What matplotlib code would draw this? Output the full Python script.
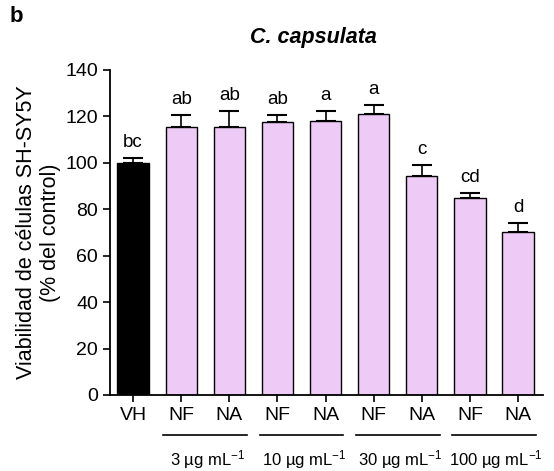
import matplotlib
matplotlib.use('Agg')
import matplotlib.pyplot as plt
import matplotlib.transforms as mtransforms

plt.rcParams['font.family'] = ['Liberation Sans', 'DejaVu Sans']
plt.rcParams['mathtext.fontset'] = 'custom'
plt.rcParams['mathtext.rm'] = 'Liberation Sans'
plt.rcParams['mathtext.it'] = 'Liberation Sans:italic'

# datos
grupos = ['VH', 'NF', 'NA', 'NF', 'NA', 'NF', 'NA', 'NF', 'NA']
media = [100, 115.5, 115.5, 117.5, 118, 121, 94.5, 85, 70]
sem = [2, 5, 7, 3, 4.5, 4, 4.5, 2, 4]
letras = ['bc', 'ab', 'ab', 'ab', 'a', 'a', 'c', 'cd', 'd']
dosis = ['3 µg mL$^{-1}$', '10 µg mL$^{-1}$', '30 µg mL$^{-1}$', '100 µg mL$^{-1}$']

colores = ['black'] + ['#EECBF6'] * 8
x = list(range(len(grupos)))

fig = plt.figure(figsize=(5.54, 4.71), dpi=100)
ax = fig.add_axes([0.1986, 0.1614, 0.7816, 0.69])

ax.bar(x, media, width=0.65, color=colores, edgecolor='black', linewidth=1.0, zorder=2)
ax.errorbar(x, media, yerr=[[0] * len(x), sem], fmt='none', ecolor='black',
            elinewidth=1.2, capsize=7, capthick=1.5, zorder=1)

for xi, m, s, l in zip(x, media, sem, letras):
    ax.annotate(l, (xi, m + s), xytext=(0, 5), textcoords='offset points',
                ha='center', va='bottom', fontsize=13.5)

ax.set_xlim(-0.48, 8.52)
ax.set_ylim(0, 140)
ax.set_yticks(range(0, 141, 20))
ax.set_xticks(x)
ax.set_xticklabels(grupos)
ax.tick_params(axis='both', labelsize=14, direction='out', length=5, width=1.2)
ax.tick_params(axis='x', pad=4)
for s in ['top', 'right']:
    ax.spines[s].set_visible(False)
for s in ['left', 'bottom']:
    ax.spines[s].set_linewidth(1.3)

ax.set_ylabel('Viabilidad de células SH-SY5Y\n(% del control)', fontsize=15.5, labelpad=3)
ax.text(0.47, 1.1, 'C. capsulata', transform=ax.transAxes, ha='center', va='center',
        fontsize=15.5, fontweight='bold', style='italic')

# lineas de dosis bajo los pares NF/NA
trans = mtransforms.blended_transform_factory(ax.transData, ax.transAxes)
for i, d in enumerate(dosis):
    c = 1.5 + 2 * i
    ax.plot([c - 0.87, c + 0.87], [-0.123, -0.123], color='black', lw=1.2,
            transform=trans, clip_on=False)
    ax.text(c + 0.05, -0.2, d, transform=trans, ha='center', va='center', fontsize=12)

fig.text(0.018, 0.965, 'b', fontsize=16, fontweight='bold', va='center')

fig.savefig('out.png', dpi=100)
